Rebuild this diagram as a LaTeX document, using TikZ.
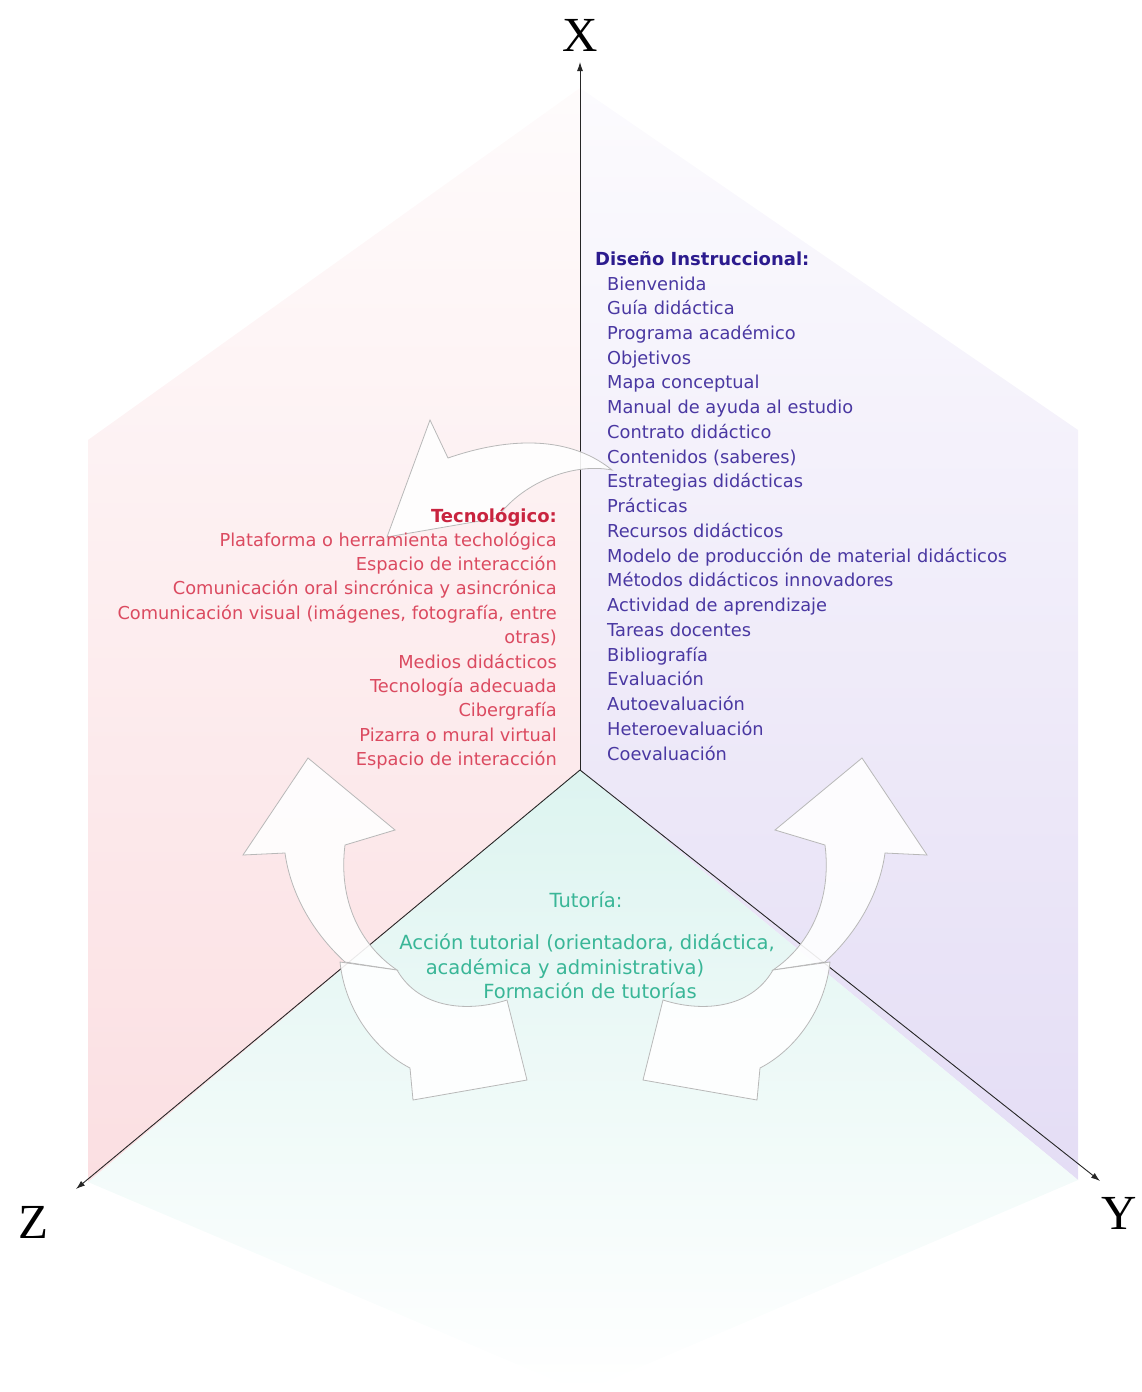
\documentclass[tikz,border=0pt]{standalone}
\usepackage{fontspec}
\setmainfont{DejaVu Sans}
\newfontfamily\axisfont{Liberation Serif}
\usetikzlibrary{arrows.meta}

\definecolor{pinkbg}{HTML}{FBDFE2}
\definecolor{lavbg}{HTML}{E4DDF5}
\definecolor{mintbg}{HTML}{DDF4F0}
\definecolor{disenodark}{HTML}{2C1B8E}
\definecolor{disenotext}{HTML}{4A38A2}
\definecolor{tecnodark}{HTML}{C9243F}
\definecolor{tecnotext}{HTML}{DB4A60}
\definecolor{tutotext}{HTML}{39B697}

\begin{document}
\begin{tikzpicture}[x=1pt, y=-1pt,
    axis/.style={-{Latex[length=9pt,width=6pt]}, line width=0.9pt, black!85},
    axislabel/.style={font=\axisfont\fontsize{49}{49}\selectfont, inner sep=0pt},
    bigarrow/.style={draw=black!28, line width=0.8pt, fill=white, fill opacity=0.9},
    listfont/.style={inner sep=0pt, font=\fontsize{17.8}{20}\selectfont},
    disenohead/.style={listfont, anchor=base west, text=disenodark, font=\bfseries\fontsize{18}{20}\selectfont},
    disenoitem/.style={listfont, anchor=base west, text=disenotext},
    tecnohead/.style={listfont, anchor=base east, text=tecnodark, font=\bfseries\fontsize{18}{20}\selectfont},
    tecnoitem/.style={listfont, anchor=base east, text=tecnotext},
    tutoitem/.style={listfont, anchor=base, text=tutotext, font=\fontsize{19.5}{22}\selectfont}
  ]
  \path[use as bounding box] (0,0) rectangle (1141,1392);

  % corners of the hexagon
  \coordinate (O) at (580,770);
  \coordinate (T) at (580,88);
  \coordinate (UL) at (88,440);
  \coordinate (LL) at (88,1182);
  \coordinate (B) at (582,1392);
  \coordinate (LR) at (1078,1180);
  \coordinate (UR) at (1078,430);

  % coloured faces
  \shade[top color=pinkbg!12, middle color=pinkbg!90, bottom color=pinkbg] (O) -- (T) -- (UL) -- (LL) -- cycle;
  \shade[top color=lavbg!12, middle color=lavbg!85, bottom color=lavbg] (O) -- (LR) -- (UR) -- (T) -- cycle;
  \shade[top color=mintbg, middle color=mintbg!80, bottom color=white] (O) -- (LL) -- (B) -- (LR) -- cycle;

  % axes
  \coordinate (Xtip) at (580,62);
  \coordinate (Ytip) at (1100,1181);
  \coordinate (Ztip) at (76,1189);
  \draw[axis] (O) -- (Xtip);
  \draw[axis] (O) -- (Ytip);
  \draw[axis] (O) -- (Ztip);
  \node[axislabel] (xlab) at (580,35) {X};
  \node[axislabel] (ylab) at (1119,1213) {Y};
  \node[axislabel] (zlab) at (33,1222) {Z};

  % curved arrows
  \path[bigarrow] (430,420) -- (448,458)
    .. controls (500,440) and (565,432) .. (612,470)
    .. controls (570,462) and (520,485) .. (497,518)
    -- (387,537) -- cycle;
  \foreach \side in {1,-1} {
    \begin{scope}[shift={({585-585*\side},0)}, xscale=\side]
      \path[bigarrow] (308,758) -- (395,830) -- (345,845)
        .. controls (338,900) and (360,945) .. (397,970)
        -- (345,962)
        .. controls (310,930) and (290,890) .. (285,853)
        -- (243,855) -- cycle;
      \path[bigarrow] (340,962)
        .. controls (345,1010) and (375,1050) .. (410,1068)
        -- (413,1100) -- (527,1080) -- (507,1000)
        .. controls (470,1012) and (420,1010) .. (397,970) -- cycle;
    \end{scope}
  }

  % Diseno instruccional
  \node[disenohead] (dhead) at (595,265) {Diseño Instruccional:};
  \foreach \txt [count=\i] in {Bienvenida, Guía didáctica, Programa académico,
      Objetivos, Mapa conceptual, Manual de ayuda al estudio, Contrato didáctico,
      Contenidos (saberes), Estrategias didácticas, Prácticas, Recursos didácticos,
      Modelo de producción de material didácticos, Métodos didácticos innovadores,
      Actividad de aprendizaje, Tareas docentes, Bibliografía, Evaluación,
      Autoevaluación, Heteroevaluación, Coevaluación}
    \node[disenoitem] (d\i) at (607,{290+24.74*(\i-1)}) {\txt};

  % Tecnologico
  \node[tecnohead] (thead) at (557,522) {Tecnológico:};
  \foreach \txt [count=\i] in {Plataforma o herramienta techológica,
      Espacio de interacción, Comunicación oral sincrónica y asincrónica,
      {Comunicación visual (imágenes, fotografía, entre}, otras),
      Medios didácticos, Tecnología adecuada, Cibergrafía,
      Pizarra o mural virtual, Espacio de interacción}
    \node[tecnoitem] (t\i) at (557,{546+24.4*(\i-1)}) {\txt};

  % Tutoria
  \node[tutoitem] (uhead) at (586,907) {Tutoría:};
  \node[tutoitem] (u1) at (587,949) {Acción tutorial (orientadora, didáctica,};
  \node[tutoitem] (u2) at (565,974) {académica y administrativa)};
  \node[tutoitem] (u3) at (590,998) {Formación de tutorías};
\end{tikzpicture}
\end{document}
